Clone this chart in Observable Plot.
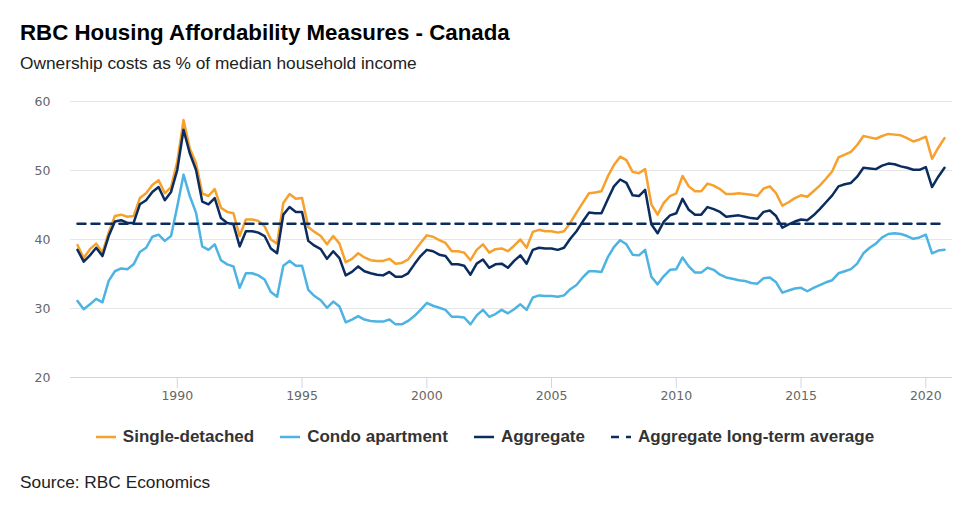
<!DOCTYPE html>
<html>
<head>
<meta charset="utf-8">
<script src="https://cdn.jsdelivr.net/npm/d3@7"></script>
<script src="https://cdn.jsdelivr.net/npm/@observablehq/plot@0.6"></script>
<style>
  body { margin: 0; background: #fff; font-family: "Liberation Sans", Arial, sans-serif; }
  #wrap { position: relative; width: 980px; height: 526px; }
  #title { position: absolute; left: 20px; top: 20px; font-size: 22.3px; font-weight: bold; color: #000; }
  #subtitle { position: absolute; left: 20px; top: 53px; font-size: 17.3px; color: #222; }
  #chart { position: absolute; left: 0; top: 85px; }
  #legend { position: absolute; left: 0; top: 427px; width: 970px; display: flex; justify-content: center; gap: 26px; font-size: 17px; font-weight: bold; color: #333; }
  #legend .item { display: flex; align-items: center; gap: 7px; }
  #source { position: absolute; left: 20px; top: 472px; font-size: 17.3px; color: #222; }
</style>
</head>
<body>
<div id="wrap">
  <div id="title">RBC Housing Affordability Measures - Canada</div>
  <div id="subtitle">Ownership costs as % of median household income</div>
  <div id="chart"></div>
  <div id="legend"></div>
  <div id="source">Source: RBC Economics</div>
</div>
<script>
// Quarterly data, first quarter 1986 to fourth quarter 2020
const startYear = 1986;
const seriesNames = ["Single-detached", "Condo apartment", "Aggregate", "Aggregate long-term average"];
const seriesColors = ["#f7a02c", "#4db3e2", "#0b2c5f", "#0b2c5f"];
const xTicks = [1990, 1995, 2000, 2005, 2010, 2015, 2020];
const yTicks = [20, 30, 40, 50, 60];
const longTermAverage = 42.3;

const singleDetached = [
  39.2, 37.3, 38.6, 39.4, 38.1, 41.0, 43.4, 43.6, 43.3, 43.4, 46.0, 46.7, 47.9, 48.6, 46.7, 47.6,
  51.3, 57.3, 53.2, 51.1, 46.7, 46.3, 47.3, 44.6, 44.0, 43.8, 40.5, 42.9, 42.9, 42.7, 41.9, 40.0,
  39.4, 45.3, 46.6, 45.9, 46.0, 41.8, 41.1, 40.5, 39.3, 40.5, 39.4, 36.7, 37.2, 38.0, 37.4, 37.0,
  36.9, 36.9, 37.2, 36.5, 36.6, 37.1, 38.3, 39.5, 40.6, 40.4, 39.9, 39.5, 38.3, 38.3, 38.1, 37.0,
  38.5, 39.3, 38.1, 38.6, 38.7, 38.3, 39.1, 40.0, 38.8, 41.1, 41.4, 41.2, 41.2, 41.0, 41.2, 42.4,
  43.9, 45.3, 46.7, 46.8, 47.0, 49.1, 50.8, 52.0, 51.5, 49.8, 49.6, 50.2, 45.1, 43.6, 45.3, 46.3,
  46.7, 49.2, 47.7, 47.0, 47.0, 48.1, 47.8, 47.3, 46.6, 46.6, 46.7, 46.6, 46.5, 46.3, 47.4, 47.7,
  46.7, 44.9, 45.4, 46.0, 46.4, 46.2, 47.0, 47.8, 48.8, 49.9, 51.9, 52.3, 52.7, 53.7, 55.0, 54.8,
  54.6, 55.0, 55.3, 55.2, 55.1, 54.7, 54.2, 54.5, 54.9, 51.7, 53.3, 54.7
];
const condoApartment = [
  31.1, 29.9, 30.6, 31.4, 30.9, 34.0, 35.4, 35.8, 35.7, 36.4, 38.2, 38.8, 40.4, 40.7, 39.8, 40.5,
  44.8, 49.4, 46.3, 43.9, 39.0, 38.5, 39.3, 37.0, 36.4, 36.1, 33.0, 35.1, 35.1, 34.8, 34.2, 32.4,
  31.7, 36.2, 36.9, 36.2, 36.2, 32.7, 31.8, 31.2, 30.1, 31.0, 30.3, 28.0, 28.4, 28.9, 28.4, 28.2,
  28.1, 28.1, 28.4, 27.7, 27.7, 28.2, 28.9, 29.8, 30.8, 30.4, 30.1, 29.8, 28.8, 28.8, 28.7, 27.7,
  29.0, 29.8, 28.8, 29.2, 29.8, 29.3, 29.9, 30.6, 29.8, 31.6, 31.9, 31.8, 31.8, 31.7, 31.9, 32.8,
  33.4, 34.5, 35.4, 35.4, 35.3, 37.4, 38.9, 39.9, 39.3, 37.8, 37.7, 38.5, 34.6, 33.5, 34.7, 35.6,
  35.7, 37.4, 36.1, 35.2, 35.2, 35.9, 35.6, 34.9, 34.5, 34.3, 34.1, 34.0, 33.7, 33.6, 34.4, 34.5,
  33.8, 32.3, 32.6, 32.9, 33.0, 32.5, 33.0, 33.4, 33.8, 34.1, 35.1, 35.4, 35.7, 36.5, 38.0, 38.8,
  39.4, 40.3, 40.8, 40.9, 40.8, 40.5, 40.1, 40.3, 40.7, 38.0, 38.4, 38.5
];
const aggregate = [
  38.5, 36.8, 37.7, 38.8, 37.6, 40.5, 42.6, 42.8, 42.4, 42.4, 45.1, 45.7, 46.9, 47.6, 45.7, 46.9,
  50.1, 55.9, 52.5, 50.1, 45.5, 45.1, 46.0, 43.1, 42.4, 42.2, 39.0, 41.2, 41.2, 41.0, 40.5, 38.7,
  38.0, 43.6, 44.7, 44.0, 44.0, 39.8, 39.1, 38.6, 37.2, 38.3, 37.3, 34.8, 35.3, 36.1, 35.4, 35.1,
  34.9, 34.8, 35.3, 34.6, 34.6, 35.1, 36.4, 37.6, 38.5, 38.3, 37.8, 37.6, 36.4, 36.4, 36.2, 34.9,
  36.5, 37.1, 35.9, 36.4, 36.5, 35.9, 36.9, 37.7, 36.5, 38.5, 38.8, 38.7, 38.7, 38.5, 38.8, 40.1,
  41.2, 42.6, 43.9, 43.8, 43.8, 45.8, 47.7, 48.7, 48.2, 46.4, 46.3, 47.2, 42.2, 40.9, 42.6, 43.5,
  43.8, 45.9, 44.3, 43.6, 43.6, 44.7, 44.4, 44.0, 43.3, 43.4, 43.5, 43.3, 43.1, 43.0, 44.0, 44.2,
  43.4, 41.7, 42.2, 42.6, 42.9, 42.8, 43.5, 44.4, 45.4, 46.4, 47.7, 48.0, 48.2, 49.1, 50.4, 50.3,
  50.2, 50.7, 51.0, 50.9, 50.6, 50.4, 50.1, 50.1, 50.5, 47.6, 49.1, 50.4
];

const toRows = (arr, name) => arr.map((v, i) => ({ t: startYear + i / 4, v, name }));
const rowsS = toRows(singleDetached, seriesNames[0]);
const rowsC = toRows(condoApartment, seriesNames[1]);
const rowsA = toRows(aggregate, seriesNames[2]);
const firstT = rowsA[0].t, lastT = rowsA[rowsA.length - 1].t;
const avgRows = [{ t: firstT, v: longTermAverage }, { t: lastT, v: longTermAverage }];

const tickFont = '"DejaVu Sans", Verdana, sans-serif';
const chart = Plot.plot({
  width: 980,
  height: 330,
  marginTop: 16,
  marginBottom: 38,
  marginLeft: 70,
  marginRight: 28,
  style: { fontFamily: tickFont, fontSize: "12.5px", color: "#666", background: "#fff" },
  x: { domain: [1985.72, 2021.07], label: null },
  y: { domain: [20, 60], label: null },
  marks: [
    Plot.gridY(yTicks.filter(d => d > 20), { stroke: "#e6e6e6", strokeOpacity: 1, strokeWidth: 1 }),
    Plot.ruleY([20], { stroke: "#ccd6eb", strokeWidth: 1 }),
    Plot.axisX({ ticks: xTicks, tickFormat: d => String(d), tickSize: 11, tickPadding: 3, stroke: "#ccd6eb", strokeOpacity: 1, color: "#666", fontSize: 12.5 }),
    Plot.axisY({ ticks: yTicks, tickSize: 0, tickPadding: 20, color: "#666", fontSize: 12.5 }),
    Plot.line(rowsS, { x: "t", y: "v", stroke: seriesColors[0], strokeWidth: 2.5, curve: "linear" }),
    Plot.line(rowsC, { x: "t", y: "v", stroke: seriesColors[1], strokeWidth: 2.5, curve: "linear" }),
    Plot.line(rowsA, { x: "t", y: "v", stroke: seriesColors[2], strokeWidth: 2.5, curve: "linear" }),
    Plot.line(avgRows, { x: "t", y: "v", stroke: seriesColors[3], strokeWidth: 2.5, strokeDasharray: "8,6" })
  ]
});
document.getElementById("chart").appendChild(chart);

// Legend
const legend = document.getElementById("legend");
seriesNames.forEach((name, i) => {
  const item = document.createElement("div");
  item.className = "item";
  const dash = i === 3 ? 'stroke-dasharray="8,7"' : '';
  item.innerHTML = `<svg width="20" height="10"><line x1="0" y1="5" x2="20" y2="5" stroke="${seriesColors[i]}" stroke-width="2.5" ${dash}/></svg><span>${name}</span>`;
  legend.appendChild(item);
});
</script>
</body>
</html>
